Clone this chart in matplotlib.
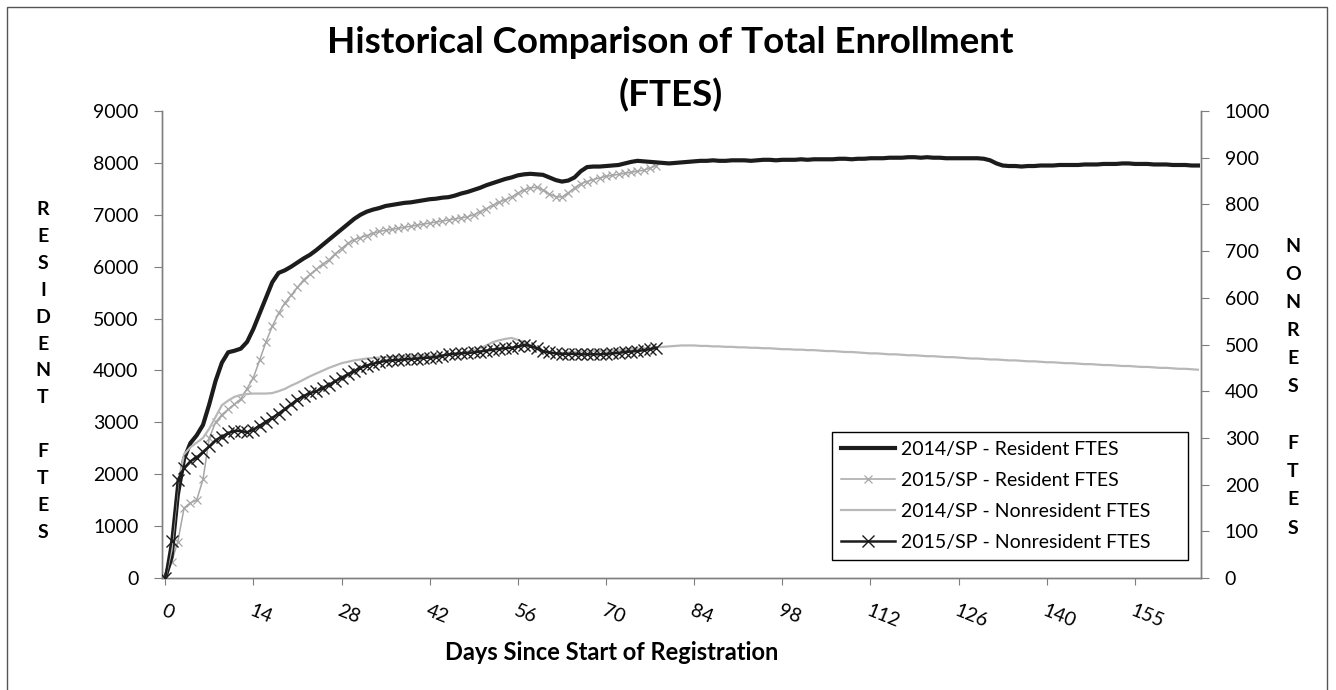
import matplotlib.pyplot as plt
import matplotlib.patches as patches

days = list(range(165))

res_2014 = [0, 400, 1600, 2300, 2600, 2750, 2950, 3350, 3800, 4150,
            4350, 4380, 4420, 4550, 4800, 5100, 5400, 5700, 5880, 5930,
            6000, 6080, 6160, 6230, 6320, 6420, 6520, 6620, 6720, 6820,
            6920, 7000, 7060, 7100, 7130, 7170, 7190, 7210, 7230, 7240,
            7260, 7280, 7300, 7310, 7330, 7340, 7370, 7410, 7440, 7480,
            7520, 7570, 7610, 7650, 7690, 7720, 7760, 7780, 7790, 7780,
            7770, 7720, 7670, 7640, 7660, 7720, 7840, 7920, 7930, 7930,
            7940, 7950, 7960, 7990, 8020, 8040, 8030, 8020, 8010, 8000,
            7990, 8000, 8010, 8020, 8030, 8040, 8040, 8050, 8040, 8040,
            8050, 8050, 8050, 8040, 8050, 8060, 8060, 8050, 8060, 8060,
            8060, 8070, 8060, 8070, 8070, 8070, 8070, 8080, 8080, 8070,
            8080, 8080, 8090, 8090, 8090, 8100, 8100, 8100, 8110, 8110,
            8100, 8110, 8100, 8100, 8090, 8090, 8090, 8090, 8090, 8090,
            8080, 8050, 7990, 7950, 7940, 7940, 7930, 7940, 7940, 7950,
            7950, 7950, 7960, 7960, 7960, 7960, 7970, 7970, 7970, 7980,
            7980, 7980, 7990, 7990, 7980, 7980, 7980, 7970, 7970, 7970,
            7960, 7960, 7960, 7950, 7950]

res_2015 = [0, 300, 700, 1350, 1450, 1500, 1900, 2700, 3000, 3150,
            3250, 3350, 3450, 3650, 3860, 4200, 4550, 4850, 5100, 5300,
            5450, 5600, 5750, 5850, 5950, 6050, 6130, 6250, 6350, 6450,
            6520, 6560, 6600, 6640, 6680, 6700, 6720, 6740, 6760, 6780,
            6800, 6820, 6840, 6860, 6880, 6900, 6920, 6940, 6960, 7000,
            7060, 7120, 7180, 7240, 7290, 7340, 7420, 7480, 7520, 7530,
            7480, 7400, 7350, 7340, 7420, 7520, 7600, 7640, 7680, 7710,
            7740, 7760, 7780, 7800, 7820, 7840, 7860, 7900, 7950]

nonres_2014 = [0, 60, 200, 265, 280, 290, 300, 320, 345, 370,
               380, 388, 392, 394, 395, 395, 395, 396, 400, 405,
               412, 418, 425, 432, 438, 444, 450, 455, 460, 463,
               466, 468, 470, 471, 472, 473, 473, 474, 474, 475,
               475, 476, 476, 477, 477, 478, 480, 482, 485, 488,
               492, 498, 505, 509, 512, 514, 510, 505, 498, 490,
               485, 483, 482, 482, 483, 484, 485, 485, 486, 486,
               487, 487, 488, 489, 490, 491, 492, 493, 494, 495,
               496, 497, 498, 498, 498, 497, 497, 496, 496, 495,
               495, 494, 494, 493, 493, 492, 492, 491, 490, 490,
               489, 489, 488, 488, 487, 486, 486, 485, 484, 484,
               483, 482, 481, 481, 480, 479, 479, 478, 477, 477,
               476, 475, 475, 474, 473, 473, 472, 471, 470, 470,
               469, 468, 468, 467, 466, 466, 465, 464, 464, 463,
               462, 462, 461, 460, 460, 459, 458, 458, 457, 456,
               456, 455, 454, 454, 453, 452, 452, 451, 450, 450,
               449, 448, 448, 447, 446]

nonres_2015 = [0, 80, 210, 235, 250, 258, 270, 282, 295, 303,
               310, 315, 315, 312, 318, 326, 335, 343, 352, 362,
               372, 382, 390, 396, 400, 407, 414, 421, 429, 436,
               443, 450, 455, 459, 462, 465, 466, 467, 468, 469,
               470, 471, 472, 473, 476, 479, 480, 481, 482, 483,
               485, 487, 489, 491, 492, 493, 496, 499, 497, 492,
               486, 483, 481, 480, 480, 480, 479, 479, 479, 479,
               480, 481, 482, 484, 485, 486, 488, 490, 493]

tick_days = [0, 14, 28, 42, 56, 70, 84, 98, 112, 126, 140, 154]
tick_labels = ['0', '14', '28', '42', '56', '70', '84', '98', '112', '126', '140', '155']

plt.rcParams['font.family'] = ['Lato', 'DejaVu Sans']

fig = plt.figure(figsize=(13.36, 6.9), dpi=100)
ax = fig.add_axes([0.1213, 0.1623, 0.7777, 0.6768])
ax2 = ax.twinx()

ax.plot(days, res_2014, color='#1c1c1c', lw=3, label='2014/SP - Resident FTES', zorder=3)
ax.plot(days[:len(res_2015)], res_2015, color='#a6a6a6', lw=1.1, marker='x', ms=6, mew=0.9,
        label='2015/SP - Resident FTES', zorder=2)
ax2.plot(days, nonres_2014, color='#b8b8b8', lw=1.6, label='2014/SP - Nonresident FTES', zorder=2)
ax2.plot(days[:len(nonres_2015)], nonres_2015, color='#1c1c1c', lw=1.8, marker='x', ms=8, mew=1,
         label='2015/SP - Nonresident FTES', zorder=3)

ax.set_xlim(-0.5, 164.5)
ax.set_ylim(0, 9000)
ax2.set_ylim(0, 1000)
ax.set_yticks(range(0, 9001, 1000))
ax2.set_yticks(range(0, 1001, 100))
ax.set_xticks(tick_days)
ax.set_xticklabels(tick_labels, rotation=-22, ha='left', va='top', rotation_mode='anchor')

for a in (ax, ax2):
    a.spines['top'].set_visible(False)
    for s in ('left', 'right', 'bottom'):
        a.spines[s].set_color('#7f7f7f')
        a.spines[s].set_linewidth(1)
ax.tick_params(axis='y', direction='out', length=6, pad=11, labelsize=14, color='#7f7f7f')
ax2.tick_params(axis='y', direction='out', length=6, pad=11, labelsize=14, color='#7f7f7f')
ax.tick_params(axis='x', direction='out', length=5, pad=12, labelsize=14, color='#7f7f7f')

h1, l1 = ax.get_legend_handles_labels()
h2, l2 = ax2.get_legend_handles_labels()
leg = ax2.legend(h1 + h2, l1 + l2, loc='upper left', bbox_to_anchor=(0.645, 0.0, 0.342, 0.3126),
                 mode='expand', fontsize=14, frameon=True, fancybox=False, framealpha=1,
                 edgecolor='black', handlelength=2.8, handletextpad=0.3,
                 borderpad=0.45, labelspacing=0.72, borderaxespad=0)
leg.get_frame().set_linewidth(1)

fig.text(0.502, 1 - 69 / 690, 'Historical Comparison of Total Enrollment\n(FTES)',
         ha='center', va='center', fontsize=26.5, fontweight='bold', linespacing=1.65)
fig.text(43 / 1336, 1 - 371 / 690, 'R\nE\nS\nI\nD\nE\nN\nT\n\nF\nT\nE\nS',
         ha='center', va='center', fontsize=14, fontweight='bold', linespacing=1.71)
fig.text(1293 / 1336, 1 - 387 / 690, 'N\nO\nN\nR\nE\nS\n\nF\nT\nE\nS',
         ha='center', va='center', fontsize=14, fontweight='bold', linespacing=1.8)
fig.text(612 / 1336, 1 - 652 / 690, 'Days Since Start of Registration',
         ha='center', va='center', fontsize=17, fontweight='bold')

fig.patches.append(patches.Rectangle((7 / 1336, -0.01), 1320 / 1336, 1.0 - 7 / 690 + 0.01,
                                     transform=fig.transFigure, fill=False,
                                     edgecolor='#555555', lw=1))

fig.savefig('out.png', dpi=100)
